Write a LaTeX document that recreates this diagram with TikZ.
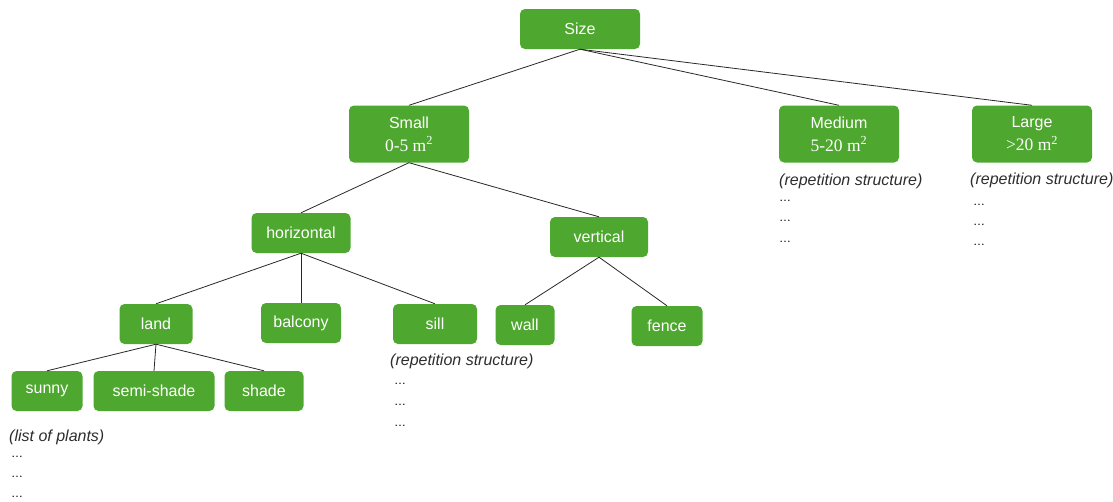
\documentclass[tikz,border=0pt]{standalone}
\usepackage{fontspec}
\setmainfont{Liberation Sans}
\newfontfamily\unitfont{Liberation Serif}
\usetikzlibrary{positioning}

\definecolor{leafgreen}{RGB}{78,167,46}
\definecolor{edgegray}{RGB}{40,40,40}
\definecolor{notegray}{RGB}{45,45,45}

\newcommand{\area}[1]{{\unitfont\fontsize{17.5}{20}\selectfont #1 m\textsuperscript{2}}}

\begin{document}
\begin{tikzpicture}[x=1pt, y=-1pt,
    box/.style={fill=leafgreen, draw=none, rounded corners=5pt, text=white,
        font=\fontsize{16}{20}\selectfont, align=center, inner sep=0pt,
        minimum height=40pt},
    tallbox/.style={box, minimum height=57pt, minimum width=120pt},
    note/.style={anchor=west, inner sep=0pt, text=notegray,
        font=\fontsize{16}{18}\selectfont\itshape},
    dots/.style={anchor=west, inner sep=0pt, text=black,
        font=\fontsize{12}{12}\selectfont},
    link/.style={draw=edgegray, line width=0.8pt}
]
\useasboundingbox (0,0) rectangle (1113,501);

% Nodes
\node[box, minimum width=120pt] (size) at (580,29) {Size};

\node[tallbox] (small) at (409,134) {Small\\[3pt]\area{0-5}};
\node[tallbox] (medium) at (839,134) {Medium\\[3pt]\area{5-20}};
\node[tallbox] (large) at (1032,134) {Large\\[3pt]\area{>20}};

\node[box, minimum width=99pt] (horiz) at (301,233) {horizontal};
\node[box, minimum width=98pt] (vert) at (599,237) {vertical};

\node[box, minimum width=73pt] (land) at (156,324) {land};
\node[box, minimum width=80pt] (balcony) at (301,323) {balcony};
\node[box, minimum width=84pt] (sill) at (435,324) {sill};
\node[box, minimum width=59pt] (wall) at (525,325) {wall};
\node[box, minimum width=71pt] (fence) at (667,326) {fence};

\node[box, minimum width=71pt] (sunny) at (47,391) {sunny};
\node[box, minimum width=121pt] (semi) at (154,391) {semi-shade};
\node[box, minimum width=79pt] (shade) at (264,391) {shade};

% Notes below the leaves
\node[note] (mednote) at (779,181) {(repetition structure)};
\node[note] (largenote) at (970,180) {(repetition structure)};
\node[note] (sillnote) at (390,361) {(repetition structure)};
\node[note] (plantnote) at (9,437) {(list of plants)};

\foreach \i/\y in {1/201,2/221,3/242}
  \node[dots] (meddots\i) at (779,\y) {…};
\foreach \i/\y in {1/205,2/225,3/245}
  \node[dots] (largedots\i) at (973,\y) {…};
\foreach \i/\y in {1/384,2/405,3/426}
  \node[dots] (silldots\i) at (394,\y) {…};
\foreach \i/\y in {1/457,2/477,3/497}
  \node[dots] (plantdots\i) at (11,\y) {…};

% Connections
\foreach \child in {small, medium, large}
  \draw[link] (size.south) -- (\child.north);
\foreach \child in {horiz, vert}
  \draw[link] (small.south) -- (\child.north);
\foreach \child in {land, balcony, sill}
  \draw[link] (horiz.south) -- (\child.north);
\foreach \child in {wall, fence}
  \draw[link] (vert.south) -- (\child.north);
\foreach \child in {sunny, semi, shade}
  \draw[link] (land.south) -- (\child.north);
\end{tikzpicture}
\end{document}
